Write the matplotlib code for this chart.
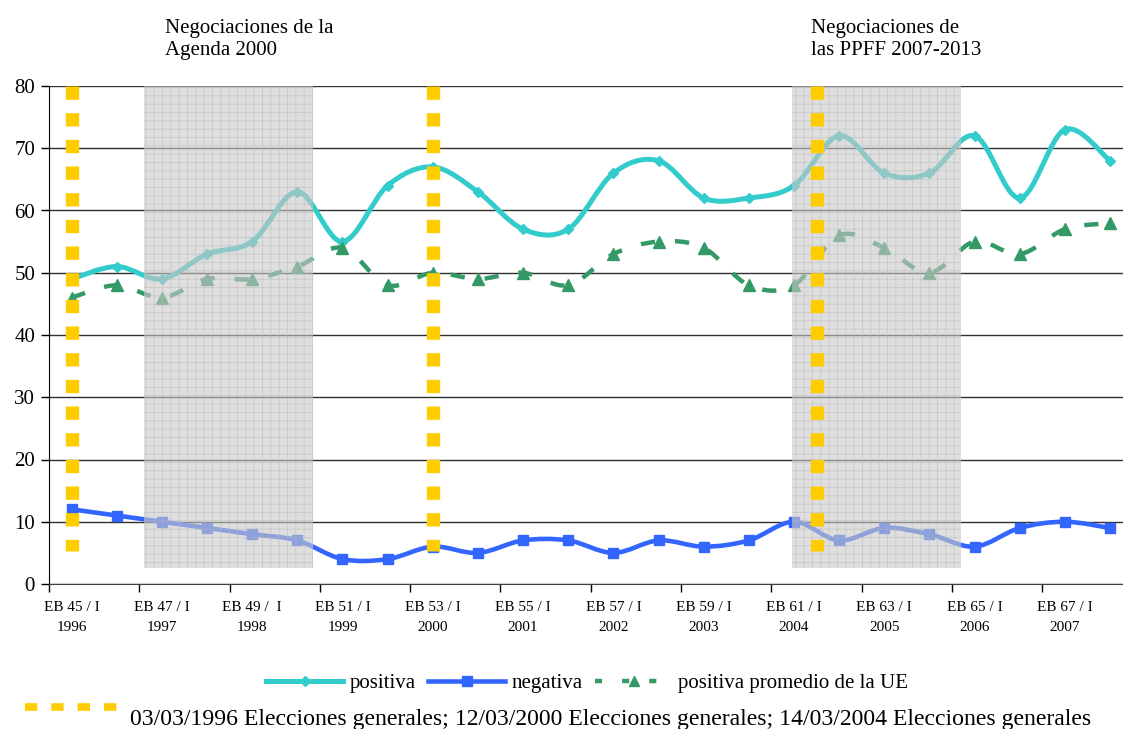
import numpy as np
import matplotlib
matplotlib.use("Agg")
import matplotlib.pyplot as plt
from matplotlib.path import Path
from matplotlib.patches import PathPatch, Rectangle
from matplotlib.lines import Line2D

plt.rcParams['font.family'] = ['Liberation Serif', 'DejaVu Serif']
plt.rcParams['hatch.linewidth'] = 0.5

# Eurobarometer waves (one category per wave, labels every second wave)
tick_labels = ["EB 45 / I\n1996", "EB 47 / I\n1997", "EB 49 /  I\n1998", "EB 51 / I\n1999",
               "EB 53 / I\n2000", "EB 55 / I\n2001", "EB 57 / I\n2002", "EB 59 / I\n2003",
               "EB 61 / I\n2004", "EB 63 / I\n2005", "EB 65 / I\n2006", "EB 67 / I\n2007"]

positiva = [49, 51, 49, 53, 55, 63, 55, 64, 67, 63, 57, 57,
            66, 68, 62, 62, 64, 72, 66, 66, 72, 62, 73, 68]
negativa = [12, 11, 10, 9, 8, 7, 4, 4, 6, 5, 7, 7,
            5, 7, 6, 7, 10, 7, 9, 8, 6, 9, 10, 9]
positiva_ue = [46, 48, 46, 49, 49, 51, 54, 48, 50, 49, 50, 48,
               53, 55, 54, 48, 48, 56, 54, 50, 55, 53, 57, 58]

# general elections (category position) and negotiation periods (start, end)
elecciones = [0, 8, 16.5]
elecciones_rango = (5.3, 80)
negociaciones = [(1.6, 5.34), (15.96, 19.7)]
negociaciones_rango = (2.6, 80)

x = np.arange(len(positiva))


def smooth_path(xs, ys):
    # excel style smoothed line: cubic bezier through every point
    n = len(xs)
    verts = [(xs[0], ys[0])]
    codes = [Path.MOVETO]
    for i in range(n - 1):
        i0 = max(i - 1, 0)
        i3 = min(i + 2, n - 1)
        c1 = (xs[i] + (xs[i + 1] - xs[i0]) / 6.0, ys[i] + (ys[i + 1] - ys[i0]) / 6.0)
        c2 = (xs[i + 1] - (xs[i3] - xs[i]) / 6.0, ys[i + 1] - (ys[i3] - ys[i]) / 6.0)
        verts += [c1, c2, (xs[i + 1], ys[i + 1])]
        codes += [Path.CURVE4] * 3
    return Path(verts, codes)


fig = plt.figure(figsize=(11.23, 7.29), dpi=100)
ax = fig.add_axes([49 / 1123, 145 / 729, 1083.6 / 1123, 498 / 729])

c_pos = '#33CCCC'
c_neg = '#3366FF'
c_ue = '#339966'
c_yel = '#FFCC00'

series = [
    (positiva, c_pos, 3.6, '-', 'D', 5.5),
    (negativa, c_neg, 3.3, '-', 's', 7.5),
    (positiva_ue, c_ue, 3.2, (0, (3.2, 4.5)), '^', 8.5),
]
for vals, col, lw, ls, mk, ms in series:
    ax.add_patch(PathPatch(smooth_path(x, vals), facecolor='none', edgecolor=col,
                           lw=lw, linestyle=ls, capstyle='butt', zorder=2))
    ax.plot(x, vals, linestyle='none', marker=mk, ms=ms, color=col,
            markeredgecolor=col, zorder=2.2)

# shaded negotiation periods
for x0, x1 in negociaciones:
    ax.add_patch(Rectangle((x0, negociaciones_rango[0]), x1 - x0,
                           negociaciones_rango[1] - negociaciones_rango[0],
                           facecolor='#c8c8c8', edgecolor='#b4b4b4', hatch='++',
                           lw=0, alpha=0.6, zorder=3))

# election markers
for xe in elecciones:
    ax.plot([xe, xe], [elecciones_rango[1], elecciones_rango[0]], color=c_yel, lw=9.6,
            linestyle=(0, (1.0, 1.0)), dash_capstyle='butt', zorder=4)

ax.set_xlim(-0.5, len(positiva) - 0.5)
ax.set_ylim(0, 80)
ax.set_yticks(np.arange(0, 81, 10))
ax.yaxis.grid(True, color='#303030', lw=1.0, zorder=0.5)
ax.set_axisbelow(True)
ax.tick_params(axis='y', labelsize=15, length=6, width=1, direction='out', pad=4)

ax.set_xticks(x[::2])
ax.set_xticklabels(tick_labels, fontsize=11, linespacing=1.7)
ax.set_xticks(np.arange(-0.5, len(positiva), 2), minor=True)
ax.tick_params(axis='x', which='major', length=0, pad=12)
ax.tick_params(axis='x', which='minor', length=6, width=1, direction='out')

for s in ['top', 'right']:
    ax.spines[s].set_visible(False)
ax.spines['left'].set_color('black')
ax.spines['bottom'].set_color('#404040')

fig.text(165 / 1123, 1 - 19 / 729, "Negociaciones de la\nAgenda 2000", fontsize=15,
         va='top', ha='left', linespacing=1.2)
fig.text(811 / 1123, 1 - 19 / 729, "Negociaciones de\nlas PPFF 2007-2013", fontsize=15,
         va='top', ha='left', linespacing=1.2)

handles = [
    Line2D([], [], color=c_pos, lw=3.6, marker='D', ms=5),
    Line2D([], [], color=c_neg, lw=3.3, marker='s', ms=7),
    Line2D([], [], color=c_ue, lw=3.2, linestyle=(0, (1.6, 4.5)), marker='^', ms=7),
]
fig.legend(handles, ["positiva", "negativa", "positiva promedio de la UE"],
           loc='center', bbox_to_anchor=(0.523, 1 - 683 / 729), ncol=3, frameon=False,
           fontsize=15, handlelength=3.7, handletextpad=0.3, columnspacing=0.6)

fig.add_artist(Line2D([25 / 1123, 121 / 1123], [1 - 707 / 729] * 2, color=c_yel, lw=5.5,
                      linestyle=(0, (1.6, 1.85)), dash_capstyle='butt',
                      transform=fig.transFigure))
fig.text(130 / 1123, 1 - 720 / 729,
         "03/03/1996 Elecciones generales; 12/03/2000 Elecciones generales; "
         "14/03/2004 Elecciones generales", fontsize=17.1, va='center', ha='left')

fig.savefig("out.png", dpi=100)
